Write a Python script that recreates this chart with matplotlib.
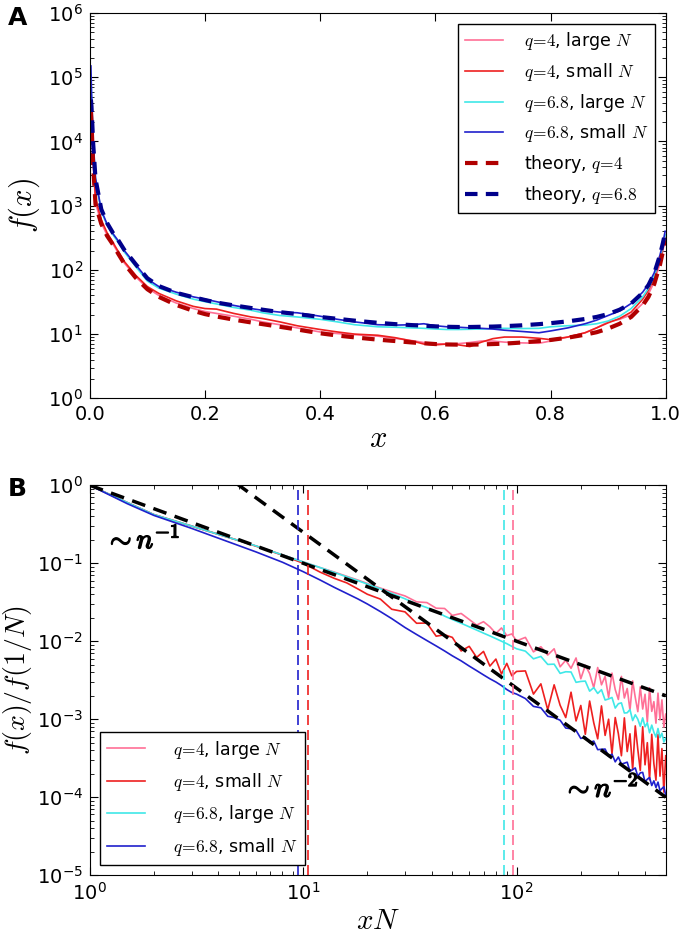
import matplotlib
matplotlib.use("Agg")
import matplotlib.pyplot as plt
import matplotlib.patheffects as pe

plt.rcParams["mathtext.fontset"] = "cm"
plt.rcParams["font.family"] = ["DejaVu Sans"]

# ---- panel A: f(x) on 0..1 ----
xA = [0.002, 0.003, 0.006, 0.01, 0.02, 0.03, 0.04, 0.05, 0.06, 0.08,
      0.1, 0.12, 0.15, 0.18, 0.2, 0.22, 0.25, 0.28, 0.3, 0.33,
      0.36, 0.4, 0.43, 0.46, 0.5, 0.53, 0.56, 0.58, 0.6, 0.62,
      0.64, 0.66, 0.68, 0.7, 0.72, 0.75, 0.78, 0.8, 0.83, 0.86,
      0.88, 0.9, 0.92, 0.94, 0.96, 0.97, 0.98, 0.99, 0.995, 0.999]

q4_large_A = [3.5e4, 2.2e4, 4.5e3, 1.1e3, 540, 350, 255, 180, 128, 78,
              52, 40, 30.5, 25, 22.5, 21, 19, 17, 15.5, 14,
              12.5, 10.8, 10.2, 9.8, 9.3, 8.6, 7.9, 7.4, 7.1, 7.0,
              7.1, 7.4, 7.8, 7.8, 7.5, 7.3, 7.2, 7.8, 9.0, 10.5,
              12.5, 15.5, 17, 20, 30, 42, 65, 125, 200, 300]
q4_small_A = [4e4, 2.5e4, 5e3, 1.3e3, 600, 380, 270, 190, 135, 82,
              55, 43, 33, 27, 25, 24.5, 21, 18.5, 17.5, 15.5,
              13.5, 11.8, 10.8, 10, 9.6, 8.8, 7.8, 7.0, 6.8, 7.0,
              6.8, 6.4, 7.5, 8.5, 9.0, 9.0, 8.6, 8.2, 9.0, 10.5,
              12.5, 15, 17.5, 22, 35, 48, 75, 140, 220, 320]
q68_large_A = [1.1e5, 5e4, 9e3, 2.5e3, 820, 500, 355, 265, 190, 112,
               67, 52, 42, 35, 32, 29.5, 26, 23.5, 21.5, 19.5,
               18.5, 17, 15.5, 14, 13, 12.8, 12.5, 12.3, 12, 11.8,
               11.8, 11.9, 12, 12.2, 12.3, 12.2, 12.3, 13, 13.5, 13.8,
               14.5, 16, 19, 25, 38, 52, 80, 150, 240, 350]
q68_small_A = [1.5e5, 6e4, 1.0e4, 2.7e3, 850, 520, 370, 280, 200, 120,
               72, 55, 45, 38, 35, 32, 28, 25, 23.5, 22,
               21.5, 19, 17, 15.5, 14, 13.8, 14, 14.5, 13.5, 13,
               12.8, 12.5, 12.3, 12, 11.5, 11, 10.5, 11.2, 12.5, 14.5,
               16.5, 19.5, 23, 30, 45, 60, 90, 170, 260, 400]
theory_q4_A = [3e4, 2e4, 4e3, 1.05e3, 520, 340, 250, 175, 125, 75,
               50, 38, 28.5, 23, 20.5, 18.8, 16.8, 15.2, 14.3, 13,
               11.8, 10.3, 9.5, 8.9, 8.2, 7.8, 7.4, 7.2, 7.0, 6.9,
               6.85, 6.85, 6.9, 7.0, 7.1, 7.4, 7.8, 8.1, 8.8, 9.8,
               10.7, 12.2, 14.5, 18.5, 28, 38, 60, 120, 190, 290]
theory_q68_A = [4.5e4, 3.5e4, 9e3, 2.6e3, 880, 540, 380, 285, 205, 122,
                74, 56, 44, 37.5, 34, 31, 28, 25.5, 24, 22,
                20.5, 18.5, 17.3, 16.2, 15, 14.3, 13.8, 13.5, 13.2, 13,
                12.9, 12.9, 13, 13.1, 13.3, 13.7, 14.3, 14.8, 15.8, 17.2,
                18.5, 20.5, 24, 30, 44, 58, 88, 170, 260, 380]

# ---- panel B: f(x)/f(1/N) against xN ----
nB = [1, 1.5, 2, 3, 4, 5, 6, 8, 10, 12, 14, 16, 18, 20, 23, 26, 30, 34, 38, 42,
      46, 50, 55, 60, 65, 70, 75, 80, 85, 90, 95, 100,
      110, 120, 130, 140, 150, 160, 170, 180, 190, 200,
      210, 220, 230, 240, 250, 260, 270, 280, 290, 300,
      310, 320, 330, 340, 350, 360, 370, 380, 390, 400,
      410, 420, 430, 440, 450, 460, 470, 480, 490, 500]

q4_large_B = [1.0, 0.60, 0.42, 0.30, 0.235, 0.195, 0.167, 0.128, 0.104, 0.088,
              0.077, 0.068, 0.061, 0.055, 0.048, 0.043, 0.0381, 0.032, 0.0313, 0.0265,
              0.0263, 0.0214, 0.0227, 0.019, 0.0161, 0.0178, 0.0153, 0.0126, 0.0148, 0.0118,
              0.0124, 0.0101,
              11.2e-3, 7.3e-3, 8.5e-3, 6.65e-3, 8.0e-3, 4.7e-3, 5.7e-3, 4.5e-3, 6.1e-3, 3.3e-3,
              4.9e-3, 3.85e-3, 2.54e-3, 4.6e-3, 2.76e-3, 3.54e-3, 1.9e-3, 3.9e-3, 2.4e-3, 1.79e-3,
              3.54e-3, 1.87e-3, 2.48e-3, 1.3e-3, 3.1e-3, 1.9e-3, 1.25e-3, 2.6e-3, 1.35e-3, 2.09e-3,
              0.92e-3, 2.53e-3, 1.26e-3, 1.68e-3, 0.89e-3, 2.16e-3, 0.98e-3, 1.77e-3, 0.79e-3, 1.16e-3]
q4_small_B = [1.0, 0.60, 0.42, 0.30, 0.235, 0.195, 0.166, 0.127, 0.100, 0.077,
              0.064, 0.056, 0.047, 0.040, 0.0347, 0.0257, 0.0238, 0.0170, 0.0171, 0.0116,
              0.0121, 0.0112, 0.0075, 0.0086, 0.0062, 0.0074, 0.0048, 0.0059, 0.0038, 0.0052,
              0.0036, 0.0041,
              4.16e-3, 2.1e-3, 2.84e-3, 1.32e-3, 2.76e-3, 1.51e-3, 1.05e-3, 2.22e-3, 0.95e-3, 1.5e-3,
              0.64e-3, 1.71e-3, 0.9e-3, 0.56e-3, 1.48e-3, 0.62e-3, 1.0e-3, 0.36e-3, 1.05e-3, 0.65e-3,
              0.34e-3, 1.04e-3, 0.385e-3, 0.65e-3, 0.225e-3, 0.82e-3, 0.41e-3, 0.22e-3, 0.8e-3, 0.26e-3,
              0.5e-3, 0.167e-3, 0.64e-3, 0.27e-3, 0.165e-3, 0.64e-3, 0.186e-3, 0.42e-3, 0.116e-3, 0.34e-3]
q68_large_B = [1.0, 0.60, 0.42, 0.30, 0.235, 0.195, 0.167, 0.128, 0.104, 0.088,
               0.076, 0.067, 0.060, 0.054, 0.047, 0.041, 0.035, 0.030, 0.027, 0.024,
               0.021, 0.019, 0.0170, 0.0153, 0.0139, 0.0127, 0.0117, 0.0108, 0.0100, 0.0093,
               0.0086, 0.0080,
               7.46e-3, 5.95e-3, 6.38e-3, 5.04e-3, 5.08e-3, 3.87e-3, 4.06e-3, 4.03e-3, 2.97e-3, 3.05e-3,
               3.08e-3, 2.29e-3, 2.54e-3, 2.14e-3, 2.39e-3, 1.76e-3, 1.82e-3, 1.9e-3, 1.39e-3, 1.58e-3,
               1.62e-3, 1.2e-3, 1.21e-3, 1.33e-3, 0.96e-3, 1.14e-3, 1.0e-3, 0.81e-3, 1.04e-3, 0.8e-3,
               0.9e-3, 0.67e-3, 0.84e-3, 0.68e-3, 0.59e-3, 0.76e-3, 0.58e-3, 0.66e-3, 0.51e-3, 0.57e-3]
q68_small_B = [1.0, 0.58, 0.41, 0.28, 0.21, 0.168, 0.14, 0.103, 0.078, 0.061,
               0.049, 0.041, 0.035, 0.030, 0.024, 0.0195, 0.0150, 0.0122, 0.0102, 0.0087,
               0.0075, 0.0065, 0.0056, 0.0048, 0.0042, 0.0037, 0.0033, 0.0030, 0.0027, 0.0024,
               0.0022, 0.0021,
               1.84e-3, 1.46e-3, 1.40e-3, 1.09e-3, 1.05e-3, 0.97e-3, 0.77e-3, 0.755e-3, 0.72e-3, 0.567e-3,
               0.588e-3, 0.5e-3, 0.524e-3, 0.407e-3, 0.411e-3, 0.414e-3, 0.333e-3, 0.356e-3, 0.284e-3, 0.327e-3,
               0.266e-3, 0.273e-3, 0.281e-3, 0.214e-3, 0.226e-3, 0.237e-3, 0.185e-3, 0.205e-3, 0.208e-3, 0.157e-3,
               0.17e-3, 0.179e-3, 0.141e-3, 0.162e-3, 0.133e-3, 0.156e-3, 0.121e-3, 0.129e-3, 0.136e-3, 0.106e-3]

# power-law guides and crossover positions
guide1_x = [1, 500]
guide1_y = [1.0, 2e-3]
guide2_x = [4, 500]
guide2_y = [1.5625, 1e-4]
cross_q68_small = 9.5
cross_q4_small = 10.5
cross_q68_large = 87
cross_q4_large = 96

c_pink = "#ff6f96"
c_red = "#ee2020"
c_cyan = "#40e8e8"
c_blue = "#2020cc"
c_dred = "#b00000"
c_dblue = "#00008b"

labels = [r"$q\!=\!4$, large $N$", r"$q\!=\!4$, small $N$",
          r"$q\!=\!6.8$, large $N$", r"$q\!=\!6.8$, small $N$"]

fig = plt.figure(figsize=(6.8, 9.35), dpi=100)
axA = fig.add_axes([0.132, 0.574, 0.847, 0.412])
axB = fig.add_axes([0.132, 0.064, 0.847, 0.417])

for ax in (axA, axB):
    ax.tick_params(which="both", direction="in", top=True, right=True, labelsize=14)
    ax.tick_params(which="major", length=6, pad=5)
    ax.tick_params(which="minor", length=3)

# panel A
axA.plot(xA, q4_large_A, color=c_pink, lw=1.2, label=labels[0])
axA.plot(xA, q4_small_A, color=c_red, lw=1.2, label=labels[1])
axA.plot(xA, q68_large_A, color=c_cyan, lw=1.2, label=labels[2])
axA.plot(xA, q68_small_A, color=c_blue, lw=1.2, label=labels[3])
axA.plot(xA, theory_q4_A, color=c_dred, lw=3, ls=(0, (3, 2)), label=r"theory, $q\!=\!4$")
axA.plot(xA, theory_q68_A, color=c_dblue, lw=3, ls=(0, (3, 2)), label=r"theory, $q\!=\!6.8$")
axA.set_yscale("log")
axA.set_xlim(0, 1)
axA.set_ylim(1, 1e6)
axA.set_xlabel(r"$x$", fontsize=22, labelpad=0)
axA.set_ylabel(r"$f(x)$", fontsize=22, labelpad=4)
legA = axA.legend(loc="upper right", fontsize=12.5, fancybox=False, framealpha=1,
                  edgecolor="black", borderaxespad=0.6, handlelength=2.2,
                  handletextpad=1.2, labelspacing=0.5)
legA.get_frame().set_linewidth(1.0)

# panel B
axB.plot(nB, q4_large_B, color=c_pink, lw=1.2, label=labels[0])
axB.plot(nB, q4_small_B, color=c_red, lw=1.2, label=labels[1])
axB.plot(nB, q68_large_B, color=c_cyan, lw=1.2, label=labels[2])
axB.plot(nB, q68_small_B, color=c_blue, lw=1.2, label=labels[3])
axB.plot(guide1_x, guide1_y, color="black", lw=2.5, ls=(0, (4, 2.5)))
axB.plot(guide2_x, guide2_y, color="black", lw=2.5, ls=(0, (4, 2.5)))
axB.axvline(cross_q68_small, color=c_blue, lw=1.2, ls=(0, (6, 3)))
axB.axvline(cross_q4_small, color=c_red, lw=1.2, ls=(0, (6, 3)))
axB.axvline(cross_q68_large, color=c_cyan, lw=1.2, ls=(0, (6, 3)))
axB.axvline(cross_q4_large, color=c_pink, lw=1.2, ls=(0, (6, 3)))
axB.set_xscale("log")
axB.set_yscale("log")
axB.set_xlim(1, 500)
axB.set_ylim(1e-5, 1)
axB.set_xlabel(r"$xN$", fontsize=21, labelpad=2)
axB.set_ylabel(r"$f(x)/f(1/N)$", fontsize=20, labelpad=2)
bold = [pe.withStroke(linewidth=1.1, foreground="black")]
axB.text(1.18, 0.2, r"$\sim n^{-1}$", fontsize=20, va="center", ha="left", path_effects=bold)
axB.text(165, 1.3e-4, r"$\sim n^{-2}$", fontsize=20, va="center", ha="left", path_effects=bold)
legB = axB.legend(loc="lower left", fontsize=12.5, fancybox=False, framealpha=1,
                  edgecolor="black", borderaxespad=0.6, handlelength=2.2,
                  handletextpad=1.6, labelspacing=0.6)
legB.get_frame().set_linewidth(1.0)

fig.text(0.012, 0.981, "A", fontsize=18, fontweight="bold", va="center")
fig.text(0.012, 0.477, "B", fontsize=18, fontweight="bold", va="center")

fig.savefig("out.png", dpi=100)
